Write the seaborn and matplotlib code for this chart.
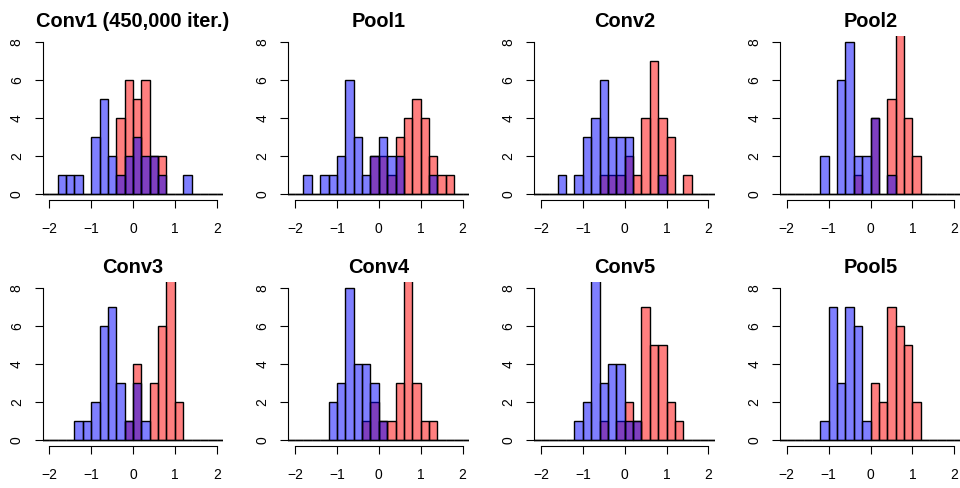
import numpy as np
import pandas as pd
import matplotlib
matplotlib.use("Agg")
import matplotlib.pyplot as plt
import seaborn as sns

# counts per 0.2-wide bin; bins run from -2.2 to 2.2 (22 bins)
bin_edges = [round(-2.2 + 0.2 * k, 1) for k in range(23)]
bin_centers = [round(e + 0.1, 2) for e in bin_edges[:-1]]

layer_names = ["Conv1 (450,000 iter.)", "Pool1", "Conv2", "Pool2",
               "Conv3", "Conv4", "Conv5", "Pool5"]

conv1_blue = [0, 0, 1, 1, 1, 0, 3, 5, 2, 1, 2, 3, 2, 2, 1, 0, 0, 1, 0, 0, 0, 0]
conv1_red = [0, 0, 0, 0, 0, 0, 0, 0, 0, 4, 6, 5, 6, 2, 2, 0, 0, 0, 0, 0, 0, 0]
pool1_blue = [0, 0, 1, 0, 1, 1, 2, 6, 3, 1, 2, 3, 2, 2, 0, 0, 0, 1, 0, 0, 0, 0]
pool1_red = [0, 0, 0, 0, 0, 0, 0, 0, 0, 0, 2, 2, 1, 3, 4, 5, 4, 2, 1, 1, 0, 0]
conv2_blue = [0, 0, 0, 1, 0, 1, 3, 4, 6, 3, 3, 3, 0, 0, 0, 1, 0, 0, 0, 0, 0, 0]
conv2_red = [0, 0, 0, 0, 0, 0, 0, 0, 1, 1, 1, 2, 1, 4, 7, 4, 3, 0, 1, 0, 0, 0]
pool2_blue = [0, 0, 0, 0, 0, 2, 0, 6, 8, 2, 2, 4, 0, 1, 0, 0, 0, 0, 0, 0, 0, 0]
pool2_red = [0, 0, 0, 0, 0, 0, 0, 0, 0, 1, 0, 4, 0, 5, 9, 4, 2, 0, 0, 0, 0, 0]
conv3_blue = [0, 0, 0, 0, 1, 1, 2, 6, 7, 3, 1, 3, 1, 0, 0, 0, 0, 0, 0, 0, 0, 0]
conv3_red = [0, 0, 0, 0, 0, 0, 0, 0, 0, 0, 1, 4, 0, 3, 6, 9, 2, 0, 0, 0, 0, 0]
conv4_blue = [0, 0, 0, 0, 0, 2, 3, 8, 4, 4, 3, 1, 0, 0, 0, 0, 0, 0, 0, 0, 0, 0]
conv4_red = [0, 0, 0, 0, 0, 0, 0, 0, 0, 1, 2, 1, 1, 3, 12, 3, 1, 1, 0, 0, 0, 0]
conv5_blue = [0, 0, 0, 0, 0, 1, 2, 9, 3, 4, 4, 1, 1, 0, 0, 0, 0, 0, 0, 0, 0, 0]
conv5_red = [0, 0, 0, 0, 0, 0, 0, 0, 1, 0, 1, 2, 1, 7, 5, 5, 2, 1, 0, 0, 0, 0]
pool5_blue = [0, 0, 0, 0, 0, 1, 7, 3, 7, 6, 1, 0, 0, 0, 0, 0, 0, 0, 0, 0, 0, 0]
pool5_red = [0, 0, 0, 0, 0, 0, 0, 0, 0, 0, 0, 3, 2, 7, 6, 5, 2, 0, 0, 0, 0, 0]

blue_counts = [conv1_blue, pool1_blue, conv2_blue, pool2_blue,
               conv3_blue, conv4_blue, conv5_blue, pool5_blue]
red_counts = [conv1_red, pool1_red, conv2_red, pool2_red,
              conv3_red, conv4_red, conv5_red, pool5_red]

x_ticks = [-2, -1, 0, 1, 2]
y_ticks = [0, 2, 4, 6, 8]

sns.set_style("ticks", {"text.color": "black", "axes.edgecolor": "black",
                        "xtick.color": "black", "ytick.color": "black"})
plt.rcParams['font.family'] = ['Liberation Sans', 'DejaVu Sans']

fig = plt.figure(figsize=(9.6, 4.88), dpi=100)

# panel placement in pixels (R-like plot regions)
col_left = [42.6, 288.4, 534.3, 780.1]
row_bottom = [200.4, 446.1]
panel_w, panel_h = 180.8, 164.5

for i, name in enumerate(layer_names):
    r, c = divmod(i, 4)
    ax = fig.add_axes([col_left[c] / 960, (488 - row_bottom[r]) / 488,
                       panel_w / 960, panel_h / 488])

    red_df = pd.DataFrame({"value": bin_centers, "n": red_counts[i]})
    blue_df = pd.DataFrame({"value": bin_centers, "n": blue_counts[i]})

    # red first, blue drawn over it so the overlap comes out purple
    sns.histplot(data=red_df, x="value", weights="n", bins=bin_edges,
                 color="red", alpha=0.5, edgecolor="black", linewidth=1.0, ax=ax)
    sns.histplot(data=blue_df, x="value", weights="n", bins=bin_edges,
                 color="blue", alpha=0.5, edgecolor="black", linewidth=1.0, ax=ax)

    ax.set_xlim(-2.16, 2.16)
    ax.set_ylim(-0.32, 8.32)
    ax.set_xticks(x_ticks)
    ax.set_yticks(y_ticks)
    ax.set_xlabel("")
    ax.set_ylabel("")
    ax.set_title(name, fontsize=14.4, fontweight="bold", pad=6.5, color="black")

    ax.spines["top"].set_visible(False)
    ax.spines["right"].set_visible(False)
    ax.spines["left"].set_bounds(0, 8)
    ax.spines["bottom"].set_bounds(-2, 2)
    for sp in ("left", "bottom"):
        ax.spines[sp].set_linewidth(0.8)
        ax.spines[sp].set_color("black")

    ax.tick_params(direction="out", length=5.5, width=0.8, labelsize=10,
                   pad=10, colors="black")
    ax.tick_params(axis="y", labelrotation=90, pad=8)
    for lab in ax.get_yticklabels():
        lab.set_va("center")

fig.savefig("out.png", dpi=100)
